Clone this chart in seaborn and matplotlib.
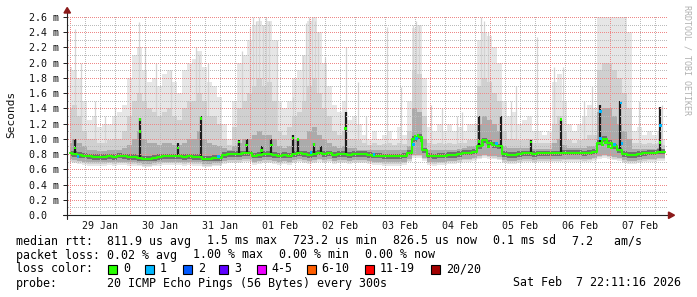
import numpy as np
import matplotlib
matplotlib.use("Agg")
import matplotlib.pyplot as plt
import seaborn as sns
import pandas as pd
from matplotlib.patches import Polygon, Rectangle
from matplotlib.lines import Line2D
from matplotlib.colors import to_rgba

# ---------------- data (values in ms, time in days from 29 Jan 00:00) ----------------
BIN_HOURS = 2
FIRST_BIN_DAY = -0.0083

smoke_top = [
    1.95, 1.9, 1.8, 1.5, 1.25, 1.3, 1.15, 1.2, 1.2, 1.3,
    1.35, 1.45, 1.8, 2.1, 2.2, 1.9, 1.75, 1.8, 1.7, 1.85,
    1.9, 1.75, 1.6, 1.9, 2.0, 2.05, 2.15, 1.95, 1.75, 1.7,
    1.55, 1.2, 1.0, 1.5, 2.0, 2.1, 2.3, 2.5, 2.55, 2.5,
    2.55, 2.3, 1.5, 1.4, 1.5, 1.8, 1.9, 2.1, 2.55, 2.6,
    2.4, 2.0, 1.7, 1.45, 1.35, 1.5, 1.25, 1.3, 1.2, 1.05,
    1.0, 1.1, 1.0, 1.05, 1.1, 1.0, 1.15, 1.05, 1.5, 2.45,
    2.5, 1.8, 1.15, 1.1, 1.2, 1.1, 1.2, 1.1, 1.15, 1.1,
    1.2, 1.2, 2.3, 2.4, 2.35, 2.2, 2.0, 1.5, 1.3, 1.35,
    1.2, 1.25, 1.3, 1.1, 1.1, 1.05, 1.1, 1.75, 1.85, 1.5,
    1.2, 1.1, 1.2, 1.3, 1.45, 1.4, 2.6, 2.6, 2.6, 2.6,
    2.6, 2.6, 2.4, 1.1, 1.15, 1.05, 1.1, 1.05, 1.1, 1.0]

smoke_mid = [
    1.4, 1.45, 1.3, 1.1, 1.0, 1.0, 0.95, 0.95, 0.98, 1.0,
    1.0, 1.1, 1.3, 1.5, 1.6, 1.5, 1.4, 1.35, 1.3, 1.35,
    1.4, 1.3, 1.25, 1.4, 1.5, 1.5, 1.6, 1.5, 1.3, 1.3,
    1.2, 1.0, 0.92, 1.15, 1.4, 1.5, 1.6, 1.7, 1.8, 1.7,
    1.75, 1.5, 1.1, 1.05, 1.15, 1.3, 1.35, 1.5, 1.7, 1.8,
    1.6, 1.4, 1.3, 1.1, 1.05, 1.1, 1.0, 1.0, 0.98, 0.94,
    0.92, 0.95, 0.92, 0.93, 0.95, 0.92, 0.95, 0.93, 1.1, 1.9,
    1.85, 1.3, 0.95, 0.93, 0.95, 0.93, 0.95, 0.93, 0.95, 0.95,
    0.98, 0.98, 1.7, 1.8, 1.75, 1.6, 1.5, 1.1, 1.0, 1.0,
    0.98, 0.98, 1.0, 0.95, 0.95, 0.95, 0.95, 1.2, 1.3, 1.1,
    0.98, 0.95, 0.98, 1.0, 1.05, 1.05, 1.9, 2.0, 2.0, 1.9,
    1.8, 1.6, 1.4, 0.95, 0.95, 0.93, 0.95, 0.93, 0.95, 0.92]

smoke_dark = [
    0.95, 1.0, 0.95, 0.9, 0.86, 0.86, 0.84, 0.84, 0.85, 0.86,
    0.86, 0.88, 0.92, 1.0, 1.1, 1.0, 0.95, 0.95, 0.92, 0.95,
    0.95, 0.92, 0.92, 0.95, 1.0, 1.0, 1.1, 1.0, 0.95, 0.92,
    0.9, 0.88, 0.86, 0.9, 0.95, 1.0, 1.0, 1.05, 1.1, 1.05,
    1.05, 1.0, 0.9, 0.88, 0.9, 1.0, 1.0, 1.0, 1.1, 1.15,
    1.05, 1.0, 0.95, 0.9, 0.88, 0.9, 0.88, 0.88, 0.86, 0.86,
    0.85, 0.85, 0.85, 0.85, 0.85, 0.85, 0.85, 0.85, 0.9, 1.4,
    1.35, 1.0, 0.85, 0.85, 0.85, 0.85, 0.86, 0.86, 0.87, 0.88,
    0.9, 0.9, 1.2, 1.3, 1.25, 1.2, 1.1, 0.9, 0.88, 0.88,
    0.88, 0.88, 0.88, 0.87, 0.87, 0.87, 0.87, 0.95, 1.0, 0.92,
    0.88, 0.88, 0.88, 0.88, 0.9, 0.9, 1.35, 1.4, 1.4, 1.3,
    1.2, 1.1, 1.0, 0.87, 0.87, 0.87, 0.87, 0.87, 0.88, 0.87]

median_rtt = [
    0.81, 0.80, 0.79, 0.78, 0.77, 0.76, 0.76, 0.76, 0.77, 0.76,
    0.78, 0.77, 0.76, 0.76, 0.75, 0.74, 0.74, 0.75, 0.76, 0.77,
    0.77, 0.77, 0.77, 0.76, 0.77, 0.76, 0.76, 0.74, 0.74, 0.75,
    0.75, 0.79, 0.80, 0.80, 0.80, 0.81, 0.81, 0.78, 0.79, 0.80,
    0.80, 0.79, 0.78, 0.79, 0.78, 0.80, 0.81, 0.80, 0.79, 0.80,
    0.82, 0.80, 0.81, 0.79, 0.80, 0.80, 0.79, 0.80, 0.80, 0.80,
    0.79, 0.78, 0.78, 0.77, 0.77, 0.77, 0.77, 0.78, 0.82, 1.00,
    1.03, 0.85, 0.78, 0.77, 0.78, 0.78, 0.79, 0.79, 0.80, 0.82,
    0.82, 0.83, 0.90, 0.98, 0.95, 0.92, 0.90, 0.80, 0.79, 0.79,
    0.80, 0.81, 0.81, 0.80, 0.81, 0.81, 0.81, 0.81, 0.81, 0.82,
    0.82, 0.82, 0.82, 0.81, 0.82, 0.83, 0.95, 1.00, 0.95, 0.90,
    0.85, 0.80, 0.79, 0.79, 0.80, 0.81, 0.82, 0.82, 0.83, 0.83]

smoke_low = [
    0.69, 0.68, 0.67, 0.66, 0.65, 0.65, 0.65, 0.65, 0.66, 0.65,
    0.66, 0.66, 0.65, 0.65, 0.64, 0.63, 0.63, 0.64, 0.65, 0.66,
    0.66, 0.66, 0.66, 0.65, 0.66, 0.65, 0.65, 0.63, 0.63, 0.64,
    0.64, 0.67, 0.68, 0.68, 0.68, 0.69, 0.69, 0.66, 0.67, 0.68,
    0.68, 0.67, 0.66, 0.67, 0.66, 0.68, 0.69, 0.68, 0.67, 0.68,
    0.70, 0.68, 0.69, 0.67, 0.68, 0.68, 0.67, 0.68, 0.68, 0.68,
    0.67, 0.66, 0.66, 0.65, 0.65, 0.65, 0.65, 0.66, 0.69, 0.75,
    0.75, 0.71, 0.66, 0.65, 0.66, 0.66, 0.67, 0.67, 0.68, 0.70,
    0.70, 0.71, 0.73, 0.75, 0.74, 0.73, 0.72, 0.68, 0.67, 0.67,
    0.68, 0.69, 0.69, 0.68, 0.69, 0.69, 0.69, 0.69, 0.69, 0.70,
    0.70, 0.70, 0.70, 0.69, 0.70, 0.71, 0.74, 0.75, 0.74, 0.72,
    0.71, 0.68, 0.67, 0.67, 0.68, 0.69, 0.70, 0.70, 0.71, 0.71]

# thin light-gray streaks (outlier pings): time (days), height (ms)
streak_day = [0.088, 0.183, 0.412, 0.583, 0.75, 1.15, 1.25, 1.433, 1.683, 2.1,
              2.15, 2.3, 2.867, 3.0, 3.05, 3.1, 3.15, 3.217, 3.267, 3.317,
              3.45, 3.717, 3.883, 3.933, 3.983, 4.033, 4.083, 4.133, 4.25, 4.595,
              4.8, 4.933, 5.278, 5.517, 5.717, 5.767, 5.817, 6.017, 6.2, 6.45,
              6.533, 6.85, 6.9, 6.967, 7.35, 7.433, 7.778, 8.067, 8.217, 8.567,
              8.7, 9.483, 9.867]
streak_ms = [2.44, 2.0, 1.5, 1.3, 1.4, 2.53, 2.2, 2.0, 1.9, 2.2,
             2.1, 2.0, 2.15, 2.45, 2.6, 2.55, 2.6, 2.5, 2.6, 2.55,
             2.3, 1.55, 2.1, 2.52, 2.6, 2.6, 2.55, 2.4, 2.08, 2.21,
             1.74, 1.3, 2.47, 1.68, 2.5, 2.55, 2.5, 1.45, 1.4, 1.3,
             1.35, 2.6, 2.55, 2.4, 1.5, 1.7, 2.34, 1.95, 1.95, 1.5,
             1.7, 1.5, 1.45]

# dark spikes (all pings slow together): time (days), top (ms)
spike_day = [0.083, 1.167, 1.8, 2.183, 2.817, 2.942, 3.192, 3.358, 3.717, 3.8,
             4.067, 4.183, 4.592, 6.817, 7.178, 7.683, 8.183, 8.833, 9.167, 9.833]
spike_ms = [1.0, 1.27, 0.95, 1.3, 0.98, 1.0, 0.9, 1.0, 1.05, 1.0,
            0.95, 0.9, 1.35, 1.3, 1.3, 0.98, 1.25, 1.45, 1.5, 1.42]

# individual median samples shown by loss colour: time (days), rtt (ms), lost pings
dot_day = [0.083, 1.167, 1.167, 1.8, 2.183, 2.817, 2.942, 3.192, 3.358, 3.717,
           3.8, 4.067, 4.592, 5.75, 5.8, 5.85, 6.817, 6.88, 6.98, 7.683,
           8.183, 8.87, 8.92, 8.97, 9.02, 9.833,
           0.133, 2.472, 4.017, 5.067, 5.728, 5.778, 7.111, 8.839, 8.839, 9.183,
           9.2, 9.072, 9.839]
dot_ms = [0.88, 1.25, 1.1, 0.88, 1.27, 0.96, 0.92, 0.85, 0.92, 1.01,
          0.99, 0.93, 1.14, 1.03, 1.05, 0.98, 0.97, 0.93, 0.9, 0.96,
          1.25, 0.92, 0.95, 0.9, 0.88, 0.95,
          0.77, 0.77, 0.82, 0.79, 0.93, 1.0, 0.94, 1.36, 1.0, 1.47,
          0.94, 0.93, 1.18]
dot_loss = [0] * 26 + [1] * 13

day_labels = ["29 Jan", "30 Jan", "31 Jan", "01 Feb", "02 Feb",
              "03 Feb", "04 Feb", "05 Feb", "06 Feb", "07 Feb"]
y_ticks = [0.0, 0.2, 0.4, 0.6, 0.8, 1.0, 1.2, 1.4, 1.6, 1.8, 2.0, 2.2, 2.4, 2.6]

loss_labels = ["0", "1", "2", "3", "4-5", "6-10", "11-19", "20/20"]
loss_colors = ["#26ff00", "#00b8ff", "#0059ff", "#5e00ff", "#ee00ff", "#ff5e00", "#ff0000", "#a10000"]

# ---------------- figure ----------------
sns.set_theme(style="white")
plt.rcParams['font.family'] = ['DejaVu Sans Mono']

W, H = 697, 297
fig = plt.figure(figsize=(W / 100, H / 100), dpi=100)
fig.patch.set_facecolor("white")

def fx(x):
    return x / W

def fy(y):
    return 1 - y / H

X0, X1, Y0, Y1 = 67, 668, 215, 17
rect = [fx(X0), fy(Y0), (X1 - X0) / W, (Y0 - Y1) / H]
ax = fig.add_axes(rect, zorder=1)
ax.set_facecolor("white")
t_left = (X0 - 70) / 60
t_right = (X1 - 70) / 60
ax.set_xlim(t_left, t_right)
ax.set_ylim(0, 2.6)

n = len(median_rtt)
t = FIRST_BIN_DAY + np.arange(n) * BIN_HOURS / 24
df = pd.DataFrame({"t": t, "top": smoke_top, "mid": smoke_mid, "dark": smoke_dark,
                   "med": median_rtt, "low": smoke_low})

ax.fill_between(df.t, df.low, df.top, step="mid", color="#e6e6e6", lw=0, zorder=1)
ax.vlines(streak_day, np.interp(streak_day, df.t, df.med), streak_ms,
          color="#d4d4d4", lw=0.9, zorder=1.2)
ax.fill_between(df.t, df.low + 0.02, df.mid, step="mid", color="#d0d0d0", lw=0, zorder=1.4)
ax.fill_between(df.t, df.low + 0.04, df.dark, step="mid", color="#ababab", lw=0, zorder=1.6)
ax.fill_between(df.t, df.med - 0.035, df.med + 0.035, step="mid", color="#707070", lw=0, zorder=1.8)
ax.vlines(spike_day, np.interp(spike_day, df.t, df.med), spike_ms,
          color="#1c1c1c", lw=1.6, zorder=2)

# dotted grid (1 px on / 1 px off) as an unscaled pixel overlay above the smoke
GRID_RED = to_rgba("#ee8888")
GRID_GRAY = to_rgba("#bbbbbb")
gw, gh = X1 - X0, Y0 - Y1
grid_img = np.zeros((gh, gw, 4))
px_per_day = gw / (t_right - t_left)
px_per_ms = gh / 2.6
for k in range(int(np.ceil(t_left * 4)), int(np.floor(t_right * 4)) + 1):
    col = int(round((k / 4 - t_left) * px_per_day))
    if 0 <= col < gw:
        grid_img[0::2, col] = GRID_RED if k % 4 == 0 else GRID_GRAY
for k in range(1, 27):
    row = int(round(gh - (k / 10) * px_per_ms))
    row = min(max(row, 0), gh - 1)
    grid_img[row, 1::2] = GRID_RED if k % 2 == 0 else GRID_GRAY
fig.figimage(grid_img, xo=X0, yo=H - Y0, origin="upper", zorder=1.5)

# median line and loss-coloured samples on a transparent overlay axes
ax2 = fig.add_axes(rect, zorder=2)
ax2.set_xlim(t_left, t_right)
ax2.set_ylim(0, 2.6)
ax2.patch.set_alpha(0)
ax2.axis("off")
sns.lineplot(data=df, x="t", y="med", ax=ax2, color="#26ff00", lw=1.5,
             drawstyle="steps-mid", zorder=4, legend=False)
dots = pd.DataFrame({"t": dot_day, "v": dot_ms,
                     "c": [loss_colors[i] for i in dot_loss]})
ax2.scatter(dots.t, dots.v, c=dots.c, marker="s", s=4, lw=0, zorder=5)
ax2.set_xlim(t_left, t_right)
ax2.set_ylim(0, 2.6)

# axes / ticks
for s in ["top", "right", "left", "bottom"]:
    ax.spines[s].set_visible(False)
ax.set_xlabel("")
ax.set_ylabel("")
ax.set_yticks(y_ticks)
ax.set_yticklabels([("%.1f m" % v) if v > 0 else "0.0  " for v in y_ticks],
                   fontsize=7.2, color="#111111")
ax.tick_params(axis="y", length=3, width=0.72, color="#222222", pad=3, left=True)
ax.set_xticks([i + 0.5 for i in range(len(day_labels))])
ax.set_xticklabels(day_labels, fontsize=7.2, color="#111111")
ax.tick_params(axis="x", length=0, pad=4.5, bottom=True)
ax.set_xticks(list(range(0, 10)), minor=True)
ax.tick_params(axis="x", which="minor", length=3, width=0.72, color="#222222")

# axis lines with arrows
axis_col = "#222222"
arrow_col = "#8b1a1a"
fig.add_artist(Line2D([fx(X0), fx(X0)], [fy(Y0 + 4), fy(11)], color=axis_col, lw=0.8,
                      transform=fig.transFigure, zorder=3))
fig.add_artist(Line2D([fx(X0 - 4), fx(670)], [fy(Y0), fy(Y0)], color=axis_col, lw=0.8,
                      transform=fig.transFigure, zorder=3))
fig.add_artist(Polygon([[fx(64), fy(13)], [fx(70.5), fy(13)], [fx(67.2), fy(7.5)]],
                       closed=True, color=arrow_col, transform=fig.transFigure, zorder=3))
fig.add_artist(Polygon([[fx(668.5), fy(212)], [fx(668.5), fy(218.5)], [fx(674.5), fy(215.2)]],
                       closed=True, color=arrow_col, transform=fig.transFigure, zorder=3))

# labels
fig.text(fx(11), fy(114), "Seconds", rotation=90, ha="center", va="center",
         fontsize=8, color="#111111")
fig.text(fx(687.5), fy(60), "RRDTOOL / TOBI OETIKER", rotation=270, ha="center",
         va="center", fontsize=6, color="#b0b0b0")

LEG = dict(fontsize=8.4, color="#000000", va="center", ha="left")
row1 = [(16, "median rtt:  811.9 us avg"), (207.3, "1.5 ms max"), (293, "723.2 us min"),
        (393.3, "826.5 us now"), (493.3, "0.1 ms sd"), (571.7, "7.2   am/s")]
for x, s in row1:
    fig.text(fx(x), fy(241), s, **LEG)
row2 = [(16, "packet loss: 0.02 % avg"), (193.3, "1.00 % max"), (279.3, "0.00 % min"),
        (365, "0.00 % now")]
for x, s in row2:
    fig.text(fx(x), fy(255), s, **LEG)
fig.text(fx(16), fy(269), "loss color:", **LEG)
sq_left = [108.3, 145, 182.7, 219.3, 256.7, 306.7, 365, 430.7]
for x, lab, col in zip(sq_left, loss_labels, loss_colors):
    fig.add_artist(Rectangle((fx(x), fy(273.5)), 9 / W, 9 / H, facecolor=col,
                             edgecolor="black", lw=0.8, transform=fig.transFigure))
    fig.text(fx(x + 15), fy(269), lab, **LEG)
fig.text(fx(16), fy(283), "probe:", **LEG)
fig.text(fx(107.3), fy(283), "20 ICMP Echo Pings (56 Bytes) every 300s", **LEG)
fig.text(fx(513.3), fy(283), "Sat Feb  7 22:11:16 2026", **LEG)

fig.savefig("out.png", dpi=100, facecolor="white")
